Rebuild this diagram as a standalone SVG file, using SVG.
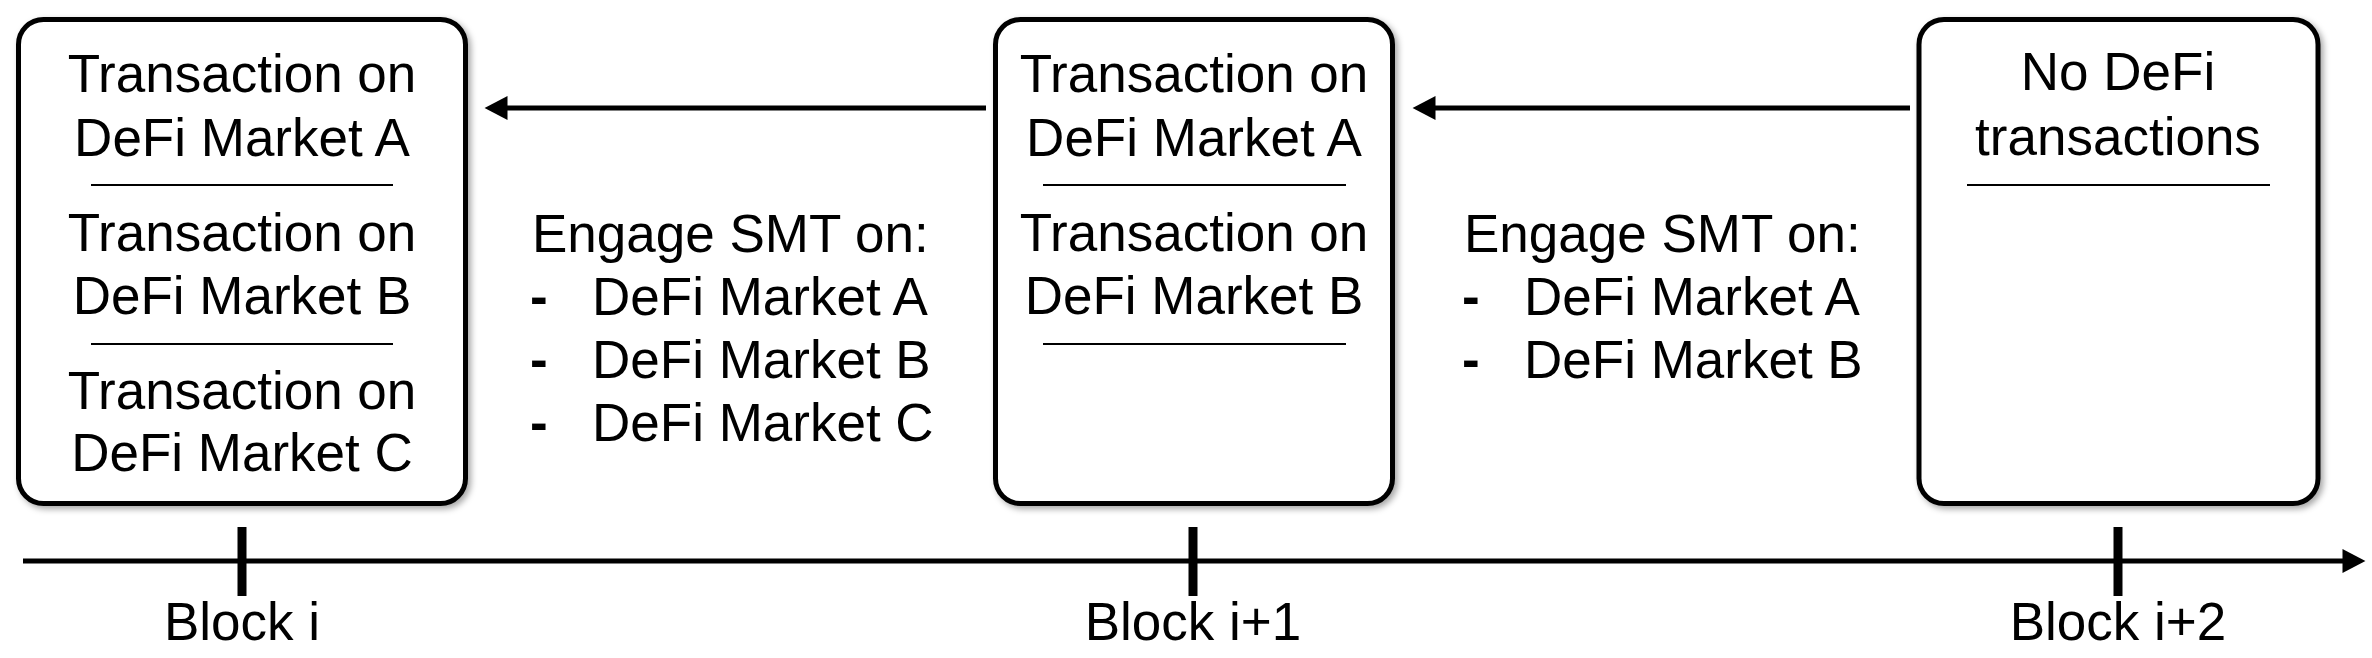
<svg xmlns="http://www.w3.org/2000/svg" width="2372" height="658" viewBox="0 0 2372 658">
<defs>
<filter id="sh" x="-10%" y="-10%" width="120%" height="120%">
<feDropShadow dx="3" dy="3" stdDeviation="3" flood-color="#000" flood-opacity="0.35"/>
</filter>
<marker id="ah" markerUnits="userSpaceOnUse" markerWidth="24" markerHeight="24" viewBox="0 0 22 23" refX="12" refY="11.5" orient="auto">
<path d="M0,0 L22,11.5 L0,23 z" fill="#000"/>
</marker>
</defs>
<style>
.box{fill:#fff;stroke:#000;stroke-width:5}
.div{stroke:#000;stroke-width:2}
.t{font-family:"Liberation Sans",Arial,Helvetica,sans-serif;font-size:53px;fill:#000}
.c{text-anchor:middle}
.d{font-weight:bold}
.ln{stroke:#000;stroke-width:5;fill:none}
.tick{stroke:#000;stroke-width:9}
</style>
<rect width="2372" height="658" fill="#fff"/>
<g id="block-i">
<rect class="box" x="18.5" y="19.5" width="447" height="484" rx="25" filter="url(#sh)"/>
<text class="t c" x="242" y="92">Transaction on</text>
<text class="t c" x="242" y="156">DeFi Market A</text>
<line class="div" x1="91" y1="185" x2="393" y2="185"/>
<text class="t c" x="242" y="251">Transaction on</text>
<text class="t c" x="242" y="314">DeFi Market B</text>
<line class="div" x1="91" y1="344" x2="393" y2="344"/>
<text class="t c" x="242" y="409">Transaction on</text>
<text class="t c" x="242" y="471">DeFi Market C</text>
</g>
<g id="block-i1">
<rect class="box" x="995.5" y="19.5" width="397" height="484" rx="25" filter="url(#sh)"/>
<text class="t c" x="1194" y="92">Transaction on</text>
<text class="t c" x="1194" y="156">DeFi Market A</text>
<line class="div" x1="1043" y1="185" x2="1346" y2="185"/>
<text class="t c" x="1194" y="251">Transaction on</text>
<text class="t c" x="1194" y="314">DeFi Market B</text>
<line class="div" x1="1043" y1="344" x2="1346" y2="344"/>
</g>
<g id="block-i2">
<rect class="box" x="1919" y="19.5" width="399" height="484" rx="25" filter="url(#sh)"/>
<text class="t c" x="2118" y="90">No DeFi</text>
<text class="t c" x="2118" y="155">transactions</text>
<line class="div" x1="1967" y1="185" x2="2270" y2="185"/>
</g>
<g id="smt-1">
<text class="t" x="532" y="252">Engage SMT on:</text>
<text class="t d" x="530" y="315">-</text>
<text class="t" x="592" y="315">DeFi Market A</text>
<text class="t d" x="530" y="378">-</text>
<text class="t" x="592" y="378">DeFi Market B</text>
<text class="t d" x="530" y="441">-</text>
<text class="t" x="592" y="441">DeFi Market C</text>
</g>
<g id="smt-2">
<text class="t" x="1464" y="252">Engage SMT on:</text>
<text class="t d" x="1462" y="315">-</text>
<text class="t" x="1524" y="315">DeFi Market A</text>
<text class="t d" x="1462" y="378">-</text>
<text class="t" x="1524" y="378">DeFi Market B</text>
</g>
<g id="connectors">
<line class="ln" x1="986" y1="108" x2="495" y2="108" marker-end="url(#ah)"/>
<line class="ln" x1="1910" y1="108" x2="1423" y2="108" marker-end="url(#ah)"/>
<line class="ln" x1="23" y1="561" x2="2355" y2="561" marker-end="url(#ah)"/>
</g>
<g id="axis">
<line class="tick" x1="242" y1="527" x2="242" y2="596"/>
<line class="tick" x1="1193" y1="527" x2="1193" y2="596"/>
<line class="tick" x1="2118" y1="527" x2="2118" y2="596"/>
<text class="t c" x="242" y="640">Block i</text>
<text class="t c" x="1193" y="640">Block i+1</text>
<text class="t c" x="2118" y="640">Block i+2</text>
</g>
</svg>
